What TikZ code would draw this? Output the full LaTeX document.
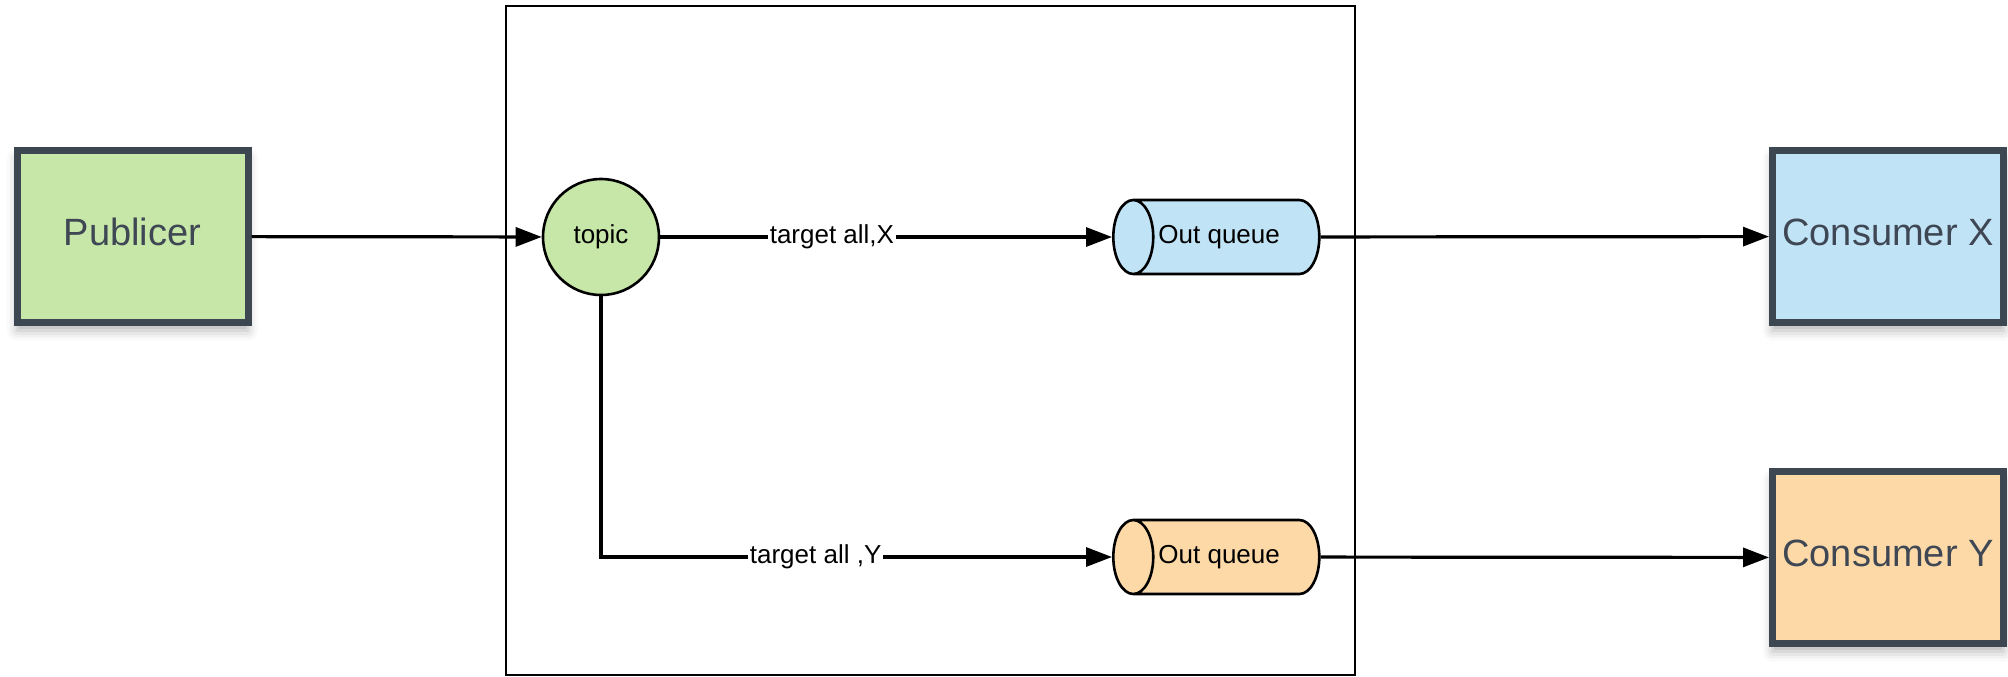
\documentclass[tikz,border=0pt]{standalone}
\usepackage{fontspec}
\setmainfont{Liberation Sans}
\usetikzlibrary{arrows.meta,shapes.geometric,shadows.blur}
\definecolor{pubgreen}{HTML}{C6E7A8}
\definecolor{consblue}{HTML}{C1E3F6}
\definecolor{consorange}{HTML}{FDD9A8}
\definecolor{slate}{HTML}{3D4752}
\definecolor{slatetext}{HTML}{3E4753}
\begin{document}
\begin{tikzpicture}[x=0.5pt,y=-0.5pt,
  actor/.style={rectangle, draw=slate, line width=3.5pt,
    minimum width=115.5pt, minimum height=86pt, inner sep=0pt,
    text height=13.7pt, text depth=5pt,
    text=slatetext, font=\fontsize{19}{23}\selectfont,
    blur shadow={shadow xshift=0pt, shadow yshift=-4pt,
      shadow blur radius=5pt, shadow opacity=30}},
  hub/.style={circle, draw=black, line width=1.3pt, fill=pubgreen,
    minimum size=58pt, inner sep=0pt, font=\fontsize{13}{15}\selectfont},
  queue/.style={cylinder, shape border rotate=180, draw=black,
    line width=1.3pt, aspect=1.45, minimum height=103pt,
    minimum width=37pt, inner sep=1pt, anchor=west,
    font=\fontsize{13}{15}\selectfont},
  conn/.style={draw=black, line width=1.6pt,
    -{Triangle[length=13pt,width=9.5pt]}},
  lbl/.style={fill=white, inner sep=1pt, font=\fontsize{13}{15}\selectfont},
  container/.style={draw=black, line width=1pt, inner sep=0pt}]

\useasboundingbox (0,0) rectangle (2008,676);

% broker frame
\node[container, minimum width=424.5pt, minimum height=334.5pt]
  (broker) at (930.5,340.5) {};

% producer and consumers
\node[actor, fill=pubgreen]   (pub) at (132.5,236.5) {Publicer};
\node[actor, fill=consblue]   (cx)  at (1888,236.5)  {Consumer X};
\node[actor, fill=consorange] (cy)  at (1888,557.5)  {Consumer Y};

% topic exchange and output queues (text pulled towards the front face)
\node[hub] (topic) at (601,237) {topic};
\node[queue, fill=consblue]   (qx) at (1112,237) {\kern-11pt Out queue};
\node[queue, fill=consorange] (qy) at (1112,557) {\kern-11pt Out queue};

% message routes
\draw[conn] (pub) -- (topic);
\draw[conn] (topic) -- node[lbl, pos=0.38] {target all,X} (qx);
\draw[conn] (topic) |- node[lbl, pos=0.71] {target all ,Y} (qy);
\draw[conn] (qx) -- (cx);
\draw[conn] (qy) -- (cy);
\end{tikzpicture}
\end{document}
